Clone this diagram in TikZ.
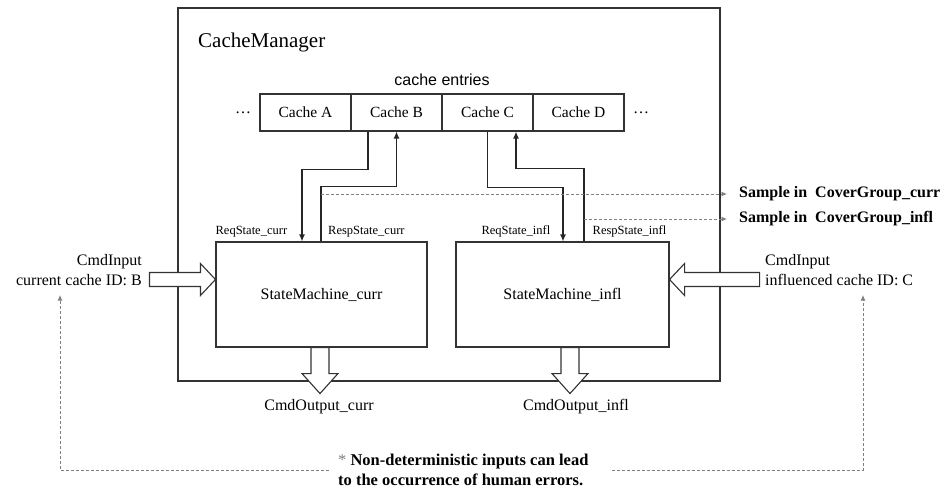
\documentclass[tikz,border=0pt]{standalone}
\usepackage{fontspec}
\setmainfont{Liberation Serif}
\newfontfamily\entryfont{Liberation Sans}
\usetikzlibrary{arrows.meta,positioning}

\tikzset{
  box/.style={draw=black!80, line width=1.1pt},
  cachebox/.style={box, minimum width=91pt, minimum height=37pt, inner sep=0pt,
    font=\fontsize{15.5}{18}\selectfont},
  smbox/.style={box, minimum height=105pt, inner sep=0pt, font=\fontsize{16}{19}\selectfont},
  wire/.style={draw=black!85, line width=1.2pt, -{Latex[length=7pt,width=6pt]}},
  hint/.style={draw=black!50, line width=0.9pt, dash pattern=on 3pt off 2pt,
    -{Latex[length=5.5pt,width=5pt]}},
  txt/.style={font=\fontsize{16}{20}\selectfont, inner sep=0pt},
  port/.style={font=\fontsize{12.5}{15}\selectfont, inner sep=0pt},
  sample/.style={font=\bfseries\fontsize{16}{19}\selectfont, inner xsep=12pt, inner ysep=0pt},
  pics/fatarrow/.style args={#1/#2/#3/#4}{code={
    \draw[box, fill=white] (0,0) -- (-#2,#4) -- (-#2,#3) -- (-#1,#3)
      -- (-#1,-#3) -- (-#2,-#3) -- (-#2,-#4) -- cycle;
  }},
}

\begin{document}
\begin{tikzpicture}[x=1pt, y=-1pt]
    \useasboundingbox (0,0) rectangle (948,490);

    % Cornice del CacheManager
    \node[box, minimum width=542pt, minimum height=373pt, inner sep=0pt] (cachemgr) at (449,194.5) {};
    \node[anchor=base west, font=\fontsize{21}{24}\selectfont, inner sep=0pt] (mgrlabel) at (198,47) {CacheManager};

    % Voci della cache
    \node[font=\entryfont\fontsize{16}{19}\selectfont] (entries) at (442,80) {cache entries};
    \foreach \c [count=\i] in {A,B,C,D}
        \node[cachebox] (cache\c) at ({305.5+91*(\i-1)},112.5) {Cache \c};
    \node[txt] (dotsL) at (243,113) {\dots};
    \node[txt] (dotsR) at (641,113) {\dots};

    % Macchine a stati
    \node[smbox, minimum width=211pt] (smcurr) at (321.5,294.5) {StateMachine\_curr};
    \node[smbox, minimum width=213pt] (sminfl) at (562.5,294.5) {StateMachine\_infl};

    % Etichette delle porte
    \node[port, anchor=south west] (reqcurr) at ([yshift=4pt]smcurr.north west) {ReqState\_curr};
    \node[port, anchor=south west] (respcurr) at ([shift={(6.5pt,4pt)}]smcurr.north) {RespState\_curr};
    \node[port, anchor=south east] (reqinfl) at ([shift={(-12pt,4pt)}]sminfl.north) {ReqState\_infl};
    \node[port, anchor=south west] (respinfl) at ([shift={(30pt,4pt)}]sminfl.north) {RespState\_infl};

    % Richieste e risposte tra cache e macchine
    \draw[wire] ([xshift=-28.5pt]cacheB.south) -- ++(0,38) -| ([xshift=-19.5pt]smcurr.north);
    \draw[wire] ([xshift=-0.5pt]smcurr.north) -- ++(0,-55) -| (cacheB.south);
    \draw[wire] (cacheC.south) -- ++(0,56) -| ([xshift=0.5pt]sminfl.north);
    \draw[wire] ([xshift=21.5pt]sminfl.north) -- ++(0,-73) -| ([xshift=28.5pt]cacheC.south);

    % Campionamento nei covergroup
    \node[sample, anchor=west] (samplecurr) at (727,194) {Sample in\ \ CoverGroup\_curr};
    \node[sample, anchor=west] (sampleinfl) at (727,219) {Sample in\ \ CoverGroup\_infl};
    \coordinate (tapcurr) at (321,194);
    \coordinate (tapinfl) at (584,219);
    \draw[hint] (tapcurr) -- (tapcurr -| samplecurr.west);
    \draw[hint] (tapinfl) -- (tapinfl -| sampleinfl.west);

    % Ingressi
    \node[txt, align=right, anchor=east] (incurr) at (142,270) {CmdInput\\current cache ID: B};
    \node[txt, align=left, anchor=west] (ininfl) at (765,270) {CmdInput\\influenced cache ID: C};
    \pic at ([yshift=15pt]smcurr.west) {fatarrow=66/15/7/16};
    \pic[rotate=180] at ([yshift=15pt]sminfl.east) {fatarrow=90/15/7/16};

    % Uscite
    \pic[rotate=-90] at ([shift={(-1.5pt,-46pt)}]smcurr.south) {fatarrow=46/20/9/18};
    \pic[rotate=-90] at ([shift={(7.5pt,-46pt)}]sminfl.south) {fatarrow=46/20/9/18};
    \node[txt] (outcurr) at (319,407) {CmdOutput\_curr};
    \node[txt] (outinfl) at (576,407) {CmdOutput\_infl};

    % Nota sugli ingressi
    \node[txt, font=\bfseries\fontsize{16.5}{20}\selectfont, align=left, anchor=west, inner xsep=9pt]
        (note) at (329,470) {{\mdseries\color{black!50}*} Non-deterministic inputs can lead\\to the occurrence of human errors.};
    \coordinate (hintL) at (60,295);
    \coordinate (hintR) at (863,295);
    \draw[hint] (note.west) -| (hintL);
    \draw[hint] ([xshift=14pt]note.east) -| (hintR);

\end{tikzpicture}
\end{document}
